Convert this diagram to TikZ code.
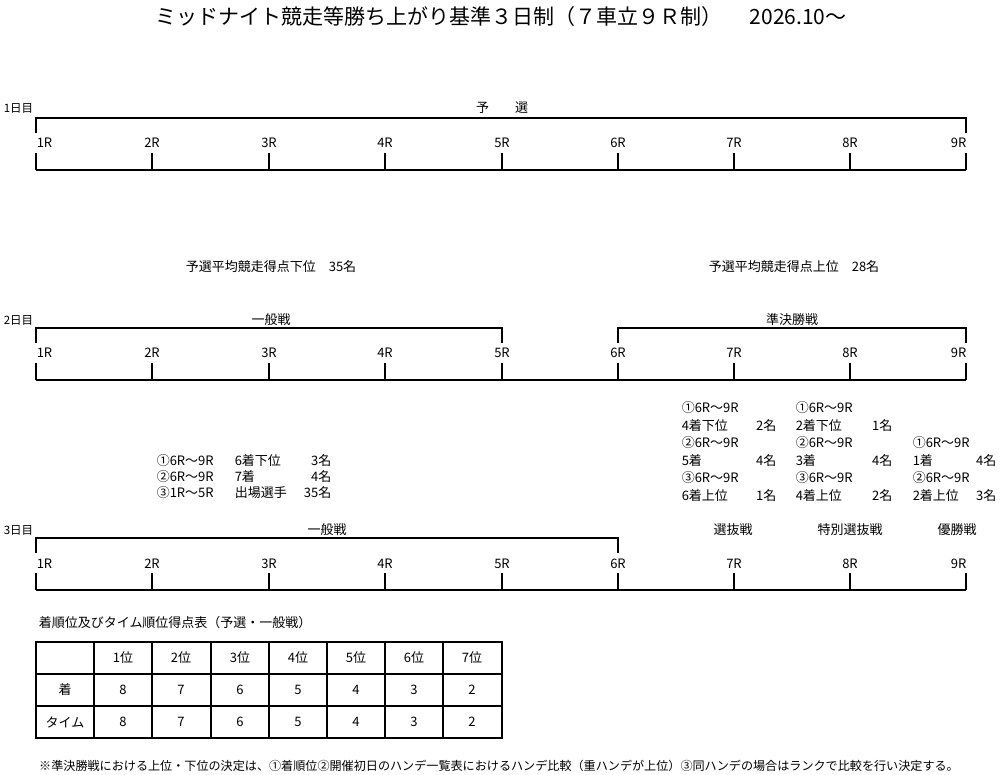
\documentclass[tikz,border=0pt]{standalone}
\usepackage{fontspec}
\setmainfont{Noto Sans CJK JP}

\begin{document}
\begin{tikzpicture}[x=1pt,y=-1pt,line width=1.5pt,
	every node/.style={inner sep=0pt},
	day/.style={font=\fontsize{11.5}{12}\selectfont, anchor=west},
	race/.style={font=\fontsize{13}{13}\selectfont},
	note/.style={font=\fontsize{13}{14}\selectfont},
	cell/.style={font=\fontsize{13}{14}\selectfont}]
	\useasboundingbox (0,0) rectangle (1000,775);

	% Title
	\node (title) at (501,17) [font=\fontsize{21}{21}\selectfont] {ミッドナイト競走等勝ち上がり基準３日制（７車立９Ｒ制）\hspace{1.3em}2026.10～};

	% Day 1
	\node (day1) at (3,108) [day] {1日目};
	\node (yosen) at (502,108) [note] {予　　選};
	\coordinate (y1s) at (36,118);
	\coordinate (y1e) at (966,118);
	\draw (y1s) ++(0,15) -- (y1s) -- (y1e) -- ++(0,15);
	\coordinate (b1s) at (36,170);
	\coordinate (b1e) at (966,170);
	\draw (b1s) -- (b1e);
	\draw (36,153) -- (36,170) (152,153) -- (152,170) (269,153) -- (269,170)
		(385,153) -- (385,170) (502,153) -- (502,170) (618,153) -- (618,170)
		(734,153) -- (734,170) (850,153) -- (850,170) (966,153) -- (966,170);
	\node (r11) at (36,143) [race, anchor=west] {1R};
	\node (r12) at (152,143) [race] {2R};
	\node (r13) at (269,143) [race] {3R};
	\node (r14) at (385,143) [race] {4R};
	\node (r15) at (502,143) [race] {5R};
	\node (r16) at (618,143) [race] {6R};
	\node (r17) at (734,143) [race] {7R};
	\node (r18) at (850,143) [race] {8R};
	\node (r19) at (967,143) [race, anchor=east] {9R};

	% Results of day 1
	\node (low) at (271,267) [note] {予選平均競走得点下位　35名};
	\node (high) at (794,267) [note] {予選平均競走得点上位　28名};

	% Day 2
	\node (day2) at (3,320) [day] {2日目};
	\node (ippan2) at (271,320) [note] {一般戦};
	\node (junk) at (792,320) [note] {準決勝戦};
	\coordinate (i2s) at (36,328);
	\coordinate (i2e) at (502,328);
	\draw (i2s) ++(0,15) -- (i2s) -- (i2e) -- ++(0,15);
	\coordinate (j2s) at (618,328);
	\coordinate (j2e) at (966,328);
	\draw (j2s) ++(0,15) -- (j2s) -- (j2e) -- ++(0,15);
	\coordinate (b2s) at (36,380);
	\coordinate (b2e) at (966,380);
	\draw (b2s) -- (b2e);
	\draw (36,363) -- (36,380) (152,363) -- (152,380) (269,363) -- (269,380)
		(385,363) -- (385,380) (502,363) -- (502,380) (618,363) -- (618,380)
		(734,363) -- (734,380) (850,363) -- (850,380) (966,363) -- (966,380);
	\node (r21) at (36,353) [race, anchor=west] {1R};
	\node (r22) at (152,353) [race] {2R};
	\node (r23) at (269,353) [race] {3R};
	\node (r24) at (385,353) [race] {4R};
	\node (r25) at (502,353) [race] {5R};
	\node (r26) at (618,353) [race] {6R};
	\node (r27) at (734,353) [race] {7R};
	\node (r28) at (850,353) [race] {8R};
	\node (r29) at (967,353) [race, anchor=east] {9R};

	% Results of day 2, general races
	\node (g1a) at (156,461) [note, anchor=west] {①6R～9R};
	\node (g1b) at (234,461) [note, anchor=west] {6着下位};
	\node (g1c) at (332,461) [note, anchor=east] {3名};
	\node (g2a) at (156,477) [note, anchor=west] {②6R～9R};
	\node (g2b) at (234,477) [note, anchor=west] {7着};
	\node (g2c) at (332,477) [note, anchor=east] {4名};
	\node (g3a) at (156,493) [note, anchor=west] {③1R～5R};
	\node (g3b) at (234,493) [note, anchor=west] {出場選手};
	\node (g3c) at (332,493) [note, anchor=east] {35名};

	% Results of day 2, semi finals
	\node (s1a) at (681,408) [note, anchor=west] {①6R～9R};
	\node (s1b) at (681,426) [note, anchor=west] {4着下位};
	\node (s1c) at (777,426) [note, anchor=east] {2名};
	\node (s1d) at (681,443) [note, anchor=west] {②6R～9R};
	\node (s1e) at (681,461) [note, anchor=west] {5着};
	\node (s1f) at (777,461) [note, anchor=east] {4名};
	\node (s1g) at (681,478) [note, anchor=west] {③6R～9R};
	\node (s1h) at (681,496) [note, anchor=west] {6着上位};
	\node (s1i) at (777,496) [note, anchor=east] {1名};
	%
	\node (s2a) at (795,408) [note, anchor=west] {①6R～9R};
	\node (s2b) at (795,426) [note, anchor=west] {2着下位};
	\node (s2c) at (893,426) [note, anchor=east] {1名};
	\node (s2d) at (795,443) [note, anchor=west] {②6R～9R};
	\node (s2e) at (795,461) [note, anchor=west] {3着};
	\node (s2f) at (893,461) [note, anchor=east] {4名};
	\node (s2g) at (795,478) [note, anchor=west] {③6R～9R};
	\node (s2h) at (795,496) [note, anchor=west] {4着上位};
	\node (s2i) at (893,496) [note, anchor=east] {2名};
	%
	\node (s3a) at (912,443) [note, anchor=west] {①6R～9R};
	\node (s3b) at (912,461) [note, anchor=west] {1着};
	\node (s3c) at (997,461) [note, anchor=east] {4名};
	\node (s3d) at (912,478) [note, anchor=west] {②6R～9R};
	\node (s3e) at (912,496) [note, anchor=west] {2着上位};
	\node (s3f) at (997,496) [note, anchor=east] {3名};

	% Day 3
	\node (day3) at (3,530) [day] {3日目};
	\node (ippan3) at (327,530) [note] {一般戦};
	\node (senb) at (733,530) [note] {選抜戦};
	\node (toku) at (850,530) [note] {特別選抜戦};
	\node (yusho) at (957,530) [note] {優勝戦};
	\coordinate (i3s) at (36,538);
	\coordinate (i3e) at (618,538);
	\draw (i3s) ++(0,15) -- (i3s) -- (i3e) -- ++(0,15);
	\coordinate (b3s) at (36,590);
	\coordinate (b3e) at (966,590);
	\draw (b3s) -- (b3e);
	\draw (36,573) -- (36,590) (152,573) -- (152,590) (269,573) -- (269,590)
		(385,573) -- (385,590) (502,573) -- (502,590) (618,573) -- (618,590)
		(734,573) -- (734,590) (850,573) -- (850,590) (966,573) -- (966,590);
	\node (r31) at (36,564) [race, anchor=west] {1R};
	\node (r32) at (152,564) [race] {2R};
	\node (r33) at (269,564) [race] {3R};
	\node (r34) at (385,564) [race] {4R};
	\node (r35) at (502,564) [race] {5R};
	\node (r36) at (618,564) [race] {6R};
	\node (r37) at (734,564) [race] {7R};
	\node (r38) at (850,564) [race] {8R};
	\node (r39) at (967,564) [race, anchor=east] {9R};

	% Points table
	\node (tabtitle) at (38,623) [note, anchor=west] {着順位及びタイム順位得点表（予選・一般戦）};
	\draw (36,642) rectangle (502,738);
	\draw (36,674) -- (502,674) (36,706) -- (502,706);
	\draw (94,642) -- (94,738) (152,642) -- (152,738) (211,642) -- (211,738)
		(269,642) -- (269,738) (327,642) -- (327,738) (385,642) -- (385,738)
		(443,642) -- (443,738);
	\node (h1) at (123,658) [cell] {1位};
	\node (h2) at (181,658) [cell] {2位};
	\node (h3) at (240,658) [cell] {3位};
	\node (h4) at (298,658) [cell] {4位};
	\node (h5) at (356,658) [cell] {5位};
	\node (h6) at (414,658) [cell] {6位};
	\node (h7) at (472,658) [cell] {7位};
	\node (c0) at (65,690) [cell] {着};
	\node (c1) at (123,690) [cell] {8};
	\node (c2) at (181,690) [cell] {7};
	\node (c3) at (240,690) [cell] {6};
	\node (c4) at (298,690) [cell] {5};
	\node (c5) at (356,690) [cell] {4};
	\node (c6) at (414,690) [cell] {3};
	\node (c7) at (472,690) [cell] {2};
	\node (t0) at (65,722) [cell] {タイム};
	\node (t1) at (123,722) [cell] {8};
	\node (t2) at (181,722) [cell] {7};
	\node (t3) at (240,722) [cell] {6};
	\node (t4) at (298,722) [cell] {5};
	\node (t5) at (356,722) [cell] {4};
	\node (t6) at (414,722) [cell] {3};
	\node (t7) at (472,722) [cell] {2};

	% Footnote
	\node (foot) at (499,766) [font=\fontsize{12.1}{12}\selectfont] {※準決勝戦における上位・下位の決定は、①着順位②開催初日のハンデ一覧表におけるハンデ比較（重ハンデが上位）③同ハンデの場合はランクで比較を行い決定する。};

\end{tikzpicture}
\end{document}
